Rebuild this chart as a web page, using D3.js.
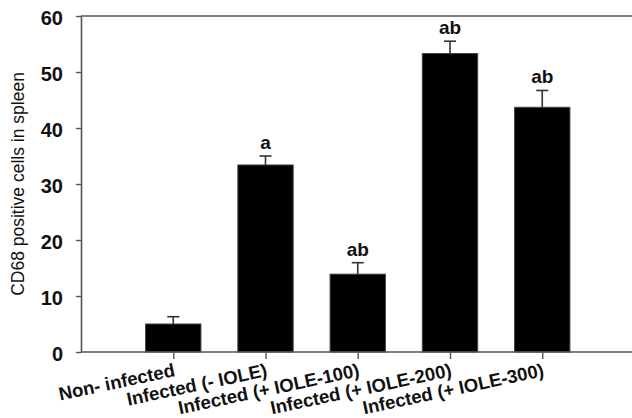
<!DOCTYPE html>
<html>
<head>
<meta charset="utf-8">
<script src="https://cdn.jsdelivr.net/npm/d3@7"></script>
<style>
  html, body { margin: 0; padding: 0; background: #fff; }
  svg { display: block; }
  text { font-family: "Liberation Sans", Arial, sans-serif; fill: #111; }
</style>
</head>
<body>
<svg id="chart" width="632" height="418"></svg>
<script>
const categories = ["Non- infected", "Infected (- IOLE)", "Infected (+ IOLE-100)", "Infected (+ IOLE-200)", "Infected (+ IOLE-300)"];
const values = [5.0, 33.4, 13.9, 53.3, 43.7];
const errors = [1.3, 1.6, 2.05, 2.2, 3.0];
const letters = ["", "a", "ab", "ab", "ab"];
const yTicks = [0, 10, 20, 30, 40, 50, 60];
const yLabel = "CD68 positive cells in spleen";

(function () {
const svg = d3.select("#chart");
const mLeft = 81, mRight = 634.5, mTop = 16, mBottom = 352;

const x = d3.scalePoint().domain(categories).range([mLeft, mRight]).padding(1);
const y = d3.scaleLinear().domain([0, 60]).range([mBottom, mTop]);
const barW = x.step() * 0.6;
const axisColor = "#555";
const ff = "'Liberation Sans', Arial, sans-serif";

// frame (top and right edges)
svg.append("path")
  .attr("d", `M${mLeft},${mTop}H${mRight}V${mBottom}`)
  .attr("fill", "none").attr("stroke", axisColor).attr("stroke-width", 1.6);

// bars
svg.append("g").selectAll("rect").data(categories).join("rect")
  .attr("x", d => x(d) - barW / 2)
  .attr("y", (d, i) => y(values[i]))
  .attr("width", barW)
  .attr("height", (d, i) => y(0) - y(values[i]))
  .attr("fill", "#000")
  .attr("stroke", "#444").attr("stroke-width", 1);

// error bars (upper only)
const eg = svg.append("g").attr("stroke", "#333").attr("stroke-width", 1.6);
categories.forEach((c, i) => {
  const cx = x(c);
  eg.append("line").attr("x1", cx).attr("x2", cx)
    .attr("y1", y(values[i])).attr("y2", y(values[i] + errors[i]));
  eg.append("line").attr("x1", cx - 6).attr("x2", cx + 6)
    .attr("y1", y(values[i] + errors[i])).attr("y2", y(values[i] + errors[i]));
});

// significance letters
svg.append("g").selectAll("text").data(categories).join("text")
  .attr("x", d => x(d))
  .attr("y", (d, i) => y(values[i] + errors[i]) - 7)
  .attr("text-anchor", "middle")
  .style("font-size", "19px").style("font-weight", "bold")
  .style("font-family", ff).attr("fill", "#111")
  .text((d, i) => letters[i]);

// y axis
const yAxis = svg.append("g").attr("transform", `translate(${mLeft},0)`)
  .call(d3.axisLeft(y).tickValues(yTicks).tickSize(5).tickPadding(13).tickSizeOuter(0));
yAxis.select(".domain").attr("stroke", axisColor).attr("stroke-width", 1.6);
yAxis.selectAll(".tick line").attr("stroke", axisColor).attr("stroke-width", 1.4);
yAxis.selectAll(".tick text")
  .attr("dy", "0.4em")
  .style("font-size", "20px").style("font-weight", "bold")
  .style("font-family", ff).attr("fill", "#111");

// x axis
const xAxis = svg.append("g").attr("transform", `translate(0,${mBottom})`)
  .call(d3.axisBottom(x).tickSize(7).tickSizeOuter(0));
xAxis.select(".domain").remove();
svg.append("line").attr("x1", mLeft).attr("x2", mRight).attr("y1", mBottom).attr("y2", mBottom)
  .attr("stroke", axisColor).attr("stroke-width", 1.6);
xAxis.selectAll(".tick line").attr("stroke", axisColor).attr("stroke-width", 1.4);
xAxis.selectAll(".tick text")
  .attr("text-anchor", "end")
  .attr("dy", null).attr("y", null)
  .attr("transform", "translate(2,24) rotate(-12)")
  .style("font-size", "18.5px").style("font-weight", "bold")
  .style("font-family", ff).attr("fill", "#111");

// y axis title
svg.append("text")
  .attr("transform", `translate(24,${(mTop + mBottom) / 2}) rotate(-90)`)
  .attr("text-anchor", "middle")
  .style("font-size", "17.5px")
  .style("font-family", ff).attr("fill", "#111")
  .text(yLabel);
})();
</script>
</body>
</html>
